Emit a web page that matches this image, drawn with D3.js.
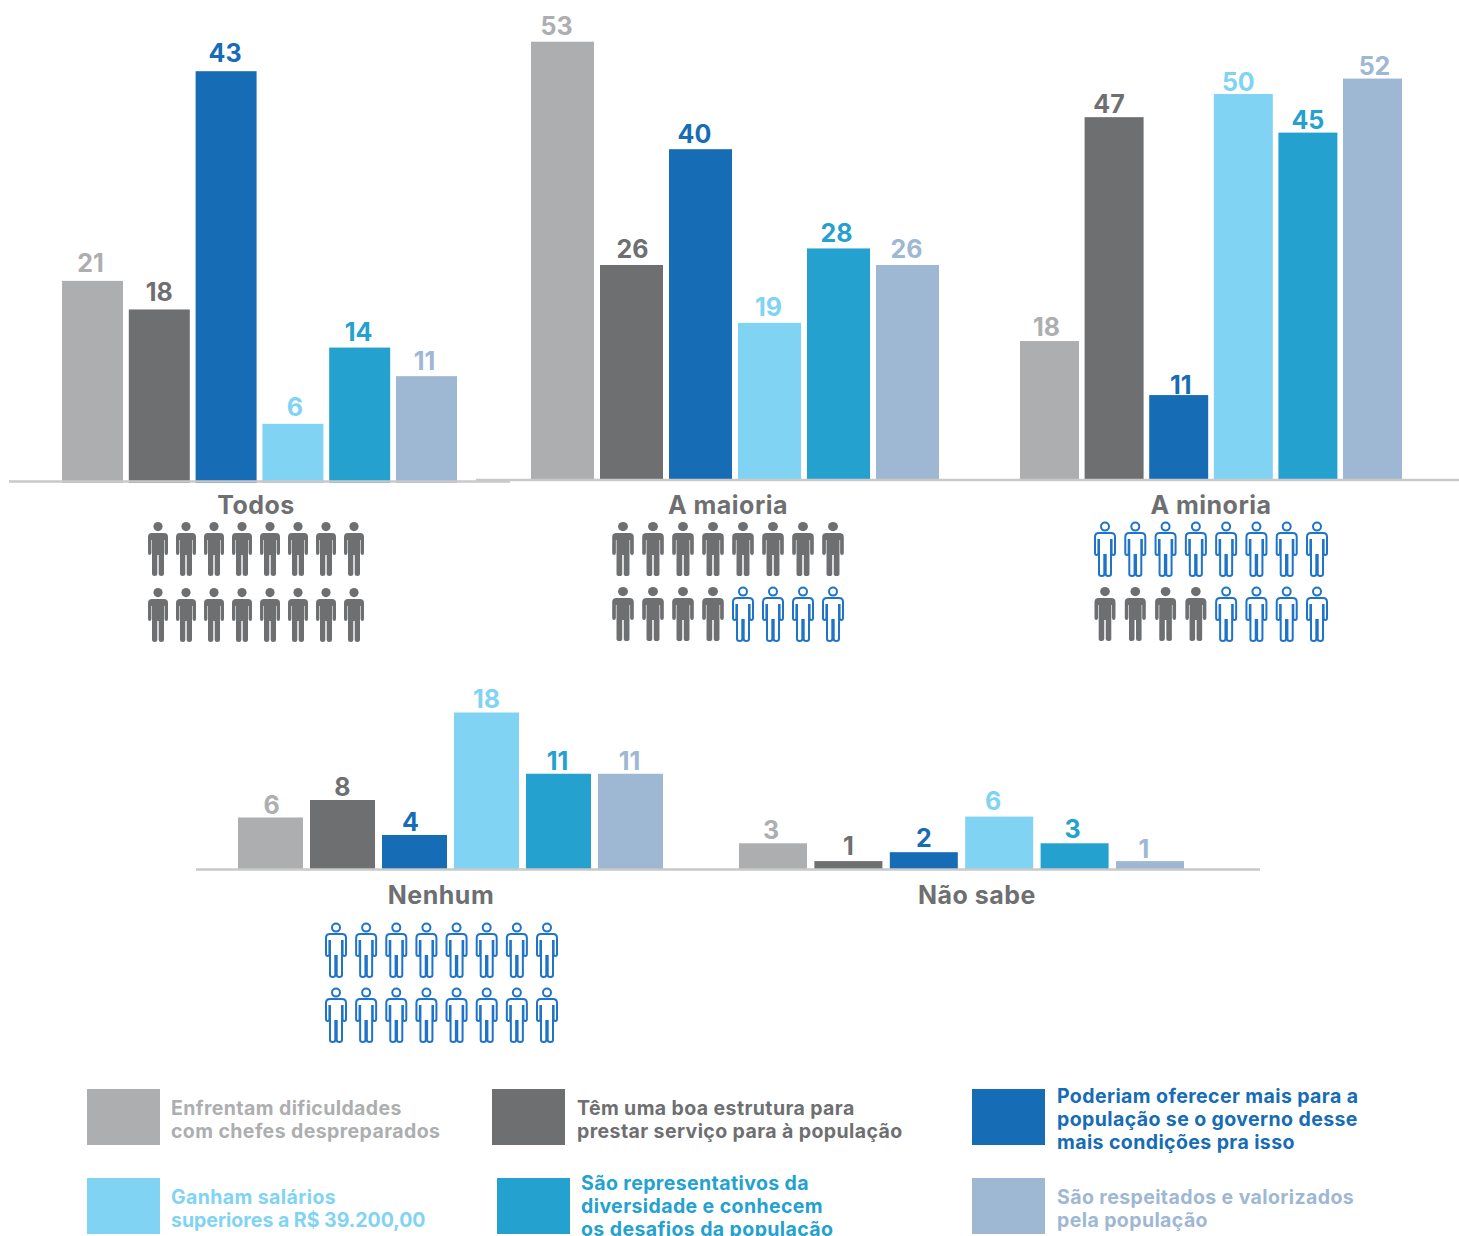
<!DOCTYPE html>
<html>

<head>
    <meta charset="utf-8">
    <title>Chart</title>
    <script src="https://d3js.org/d3.v7.min.js"></script>
    <style>
        body {
            margin: 0;
            background: #fff;
        }

        svg {
            display: block;
        }

        text {
            font-family: Inter, "Open Sans", sans-serif;
            font-weight: 700;
        }
    </style>
</head>

<body>
    <div id="my_dataviz"></div>
    <script>
        // data
        const seriesNames = [
            ["Enfrentam dificuldades", "com chefes despreparados"],
            ["Têm uma boa estrutura para", "prestar serviço para à população"],
            ["Poderiam oferecer mais para a", "população se o governo desse", "mais condições pra isso"],
            ["Ganham salários", "superiores a R$ 39.200,00"],
            ["São representativos da", "diversidade e conhecem", "os desafios da população"],
            ["São respeitados e valorizados", "pela população"]
        ]
        const categories = ["Todos", "A maioria", "A minoria", "Nenhum", "Não sabe"]
        const todos = [21, 18, 43, 6, 14, 11]
        const maioria = [53, 26, 40, 19, 28, 26]
        const minoria = [18, 47, 11, 50, 45, 52]
        const nenhum = [6, 8, 4, 18, 11, 11]
        const naoSabe = [3, 1, 2, 6, 3, 1]
        const values = [todos, maioria, minoria, nenhum, naoSabe]
        // filled people per row, out of 8
        const filledPeople = [[8, 8], [8, 4], [0, 4], [0, 0], null]

        const colors = ["#adaeb0", "#6e6f71", "#166cb5", "#81d3f4", "#24a1ce", "#9eb7d3"]
        const grey = "#6e6f71"
        const outline = "#1f74c9"
        const lineColor = "#c9c9c9"

        // layout of each group: bar range, gap ratio, baseline, pixels per unit, icons
        // nudge = hand placed value labels [dx, dy], they are not centred in the original
        const panels = [
            {
                x0: 62, x1: 457, inner: 0.087, base: 481, unit: 9.53, label: 256, labelY: 514,
                iconX: [158, 354], iconY: [522, 588], iconW: 1,
                nudge: [[-2, -1], [0, 0], [-1, -1], [2, 0], [-1, 1], [-2, 2]]
            },
            {
                x0: 531, x1: 939, inner: 0.087, base: 480, unit: 8.27, label: 728, labelY: 514,
                iconX: [623, 833], iconY: [522, 587], iconW: 1.08,
                nudge: [[-6, 1], [1, 1], [-6, 2], [-1, 1], [-2, 2], [-1, 1]]
            },
            {
                x0: 1020, x1: 1402, inner: 0.087, base: 480, unit: 7.72, label: 1211, labelY: 514,
                iconX: [1105, 1317], iconY: [522, 587], iconW: 1.05,
                nudge: [[-3, 3], [-5, 4], [2, 7], [-5, 5], [0, 4], [2, 4]]
            },
            {
                x0: 238, x1: 663, inner: 0.097, base: 870, unit: 8.75, label: 441, labelY: 904,
                iconX: [336, 547], iconY: [923, 988], iconW: 1,
                nudge: [[1, 4], [0, 4], [-4, 4], [0, 3], [-1, 4], [-1, 4]]
            },
            {
                x0: 739, x1: 1184, inner: 0.098, base: 870, unit: 8.9, label: 977, labelY: 904,
                nudge: [[-2, 4], [0, 2], [0, 3], [-6, 1], [-2, 3], [-6, 5]]
            }
        ]
        const baselines = [
            { x1: 9, x2: 510, y: 481.5 },
            { x1: 476, x2: 1459, y: 480 },
            { x1: 196, x2: 1260, y: 869.5 }
        ]
        const legendBoxes = [
            { x: 87, y: 1089, tx: 171, dy: 3 },
            { x: 492, y: 1089, tx: 577, dy: 3 },
            { x: 972, y: 1089, tx: 1057, dy: 2 },
            { x: 87, y: 1178, tx: 171, dy: 3 },
            { x: 497, y: 1178, tx: 581, dy: 0 },
            { x: 972, y: 1178, tx: 1057, dy: 3 }
        ]

        const svg = d3.select("#my_dataviz")
            .append("svg")
            .attr("width", 1459)
            .attr("height", 1236)

        // person icon, 20 x 54
        const personPath = "M4,11 H16 Q20,11 20,15 V31 Q20,33 18.3,33 Q16.8,33 16.6,31 V18 H16 V52 Q16,54 13.3,54 Q10.7,54 10.7,52 V33 H9.3 V52 Q9.3,54 6.7,54 Q4,54 4,52 V18 H3.4 V31 Q3.2,33 1.7,33 Q0,33 0,31 V15 Q0,11 4,11 Z"

        function drawPerson(g, cx, y, filled, w) {
            // the outlined figures keep their width, only the filled ones stretch
            const sx = filled ? w : 1
            const p = g.append("g").attr("transform", `translate(${cx - 10 * sx},${y}) scale(${sx},1)`)
            const stroke = filled ? "none" : outline
            const fill = filled ? grey : "#fff"
            p.append("circle").attr("cx", 10).attr("cy", 4.6).attr("r", filled ? 4.6 : 4)
                .attr("fill", fill).attr("stroke", stroke).attr("stroke-width", 2)
            p.append("path").attr("d", personPath)
                .attr("fill", fill).attr("stroke", stroke).attr("stroke-width", 2)
        }

        panels.forEach(function (p, i) {
            const x = d3.scaleBand()
                .domain(d3.range(6))
                .range([p.x0, p.x1])
                .paddingInner(p.inner)
            const y = d3.scaleLinear()
                .domain([0, 1])
                .range([p.base, p.base - p.unit])

            const g = svg.append("g")

            g.selectAll("rect")
                .data(values[i])
                .join("rect")
                .attr("x", (d, j) => x(j))
                .attr("y", d => y(d))
                .attr("width", x.bandwidth())
                .attr("height", d => p.base + (i == 0 ? 2 : 0) - y(d))
                .attr("fill", (d, j) => colors[j])

            g.selectAll("text.value")
                .data(values[i])
                .join("text")
                .attr("class", "value")
                .attr("text-anchor", "middle")
                .attr("x", (d, j) => x(j) + x.bandwidth() / 2 + p.nudge[j][0])
                .attr("y", (d, j) => y(d) - 8 + p.nudge[j][1])
                .attr("fill", (d, j) => colors[j])
                .style("font-size", "25px")
                .text(d => d)

            svg.append("text")
                .attr("text-anchor", "middle")
                .attr("x", p.label)
                .attr("y", p.labelY)
                .attr("fill", grey)
                .style("font-size", "25px")
                .style("letter-spacing", "0.5px")
                .text(categories[i])

            // people rows
            if (filledPeople[i]) {
                const ix = d3.scalePoint().domain(d3.range(8)).range(p.iconX)
                filledPeople[i].forEach(function (n, row) {
                    d3.range(8).forEach(k => drawPerson(g, ix(k), p.iconY[row], k < n, p.iconW))
                })
            }
        })

        // baselines go over the bars
        svg.selectAll("line.base")
            .data(baselines)
            .join("line")
            .attr("class", "base")
            .attr("x1", d => d.x1)
            .attr("x2", d => d.x2)
            .attr("y1", d => d.y)
            .attr("y2", d => d.y)
            .attr("stroke", lineColor)
            .attr("stroke-width", 2.5)

        // Handmade legend
        legendBoxes.forEach(function (b, i) {
            svg.append("rect")
                .attr("x", b.x).attr("y", b.y)
                .attr("width", 73).attr("height", 56)
                .style("fill", colors[i])
            const lines = seriesNames[i]
            const first = b.y + 28 + 6.5 - (lines.length - 1) * 11.5 + b.dy
            lines.forEach(function (t, k) {
                svg.append("text")
                    .attr("x", b.tx)
                    .attr("y", first + k * 23)
                    .attr("fill", colors[i])
                    .style("font-size", "19.5px")
                    // digits run wide in this font
                    .style("letter-spacing", /\d/.test(t) ? "0px" : "0.4px")
                    .text(t)
            })
        })
    </script>
</body>

</html>
